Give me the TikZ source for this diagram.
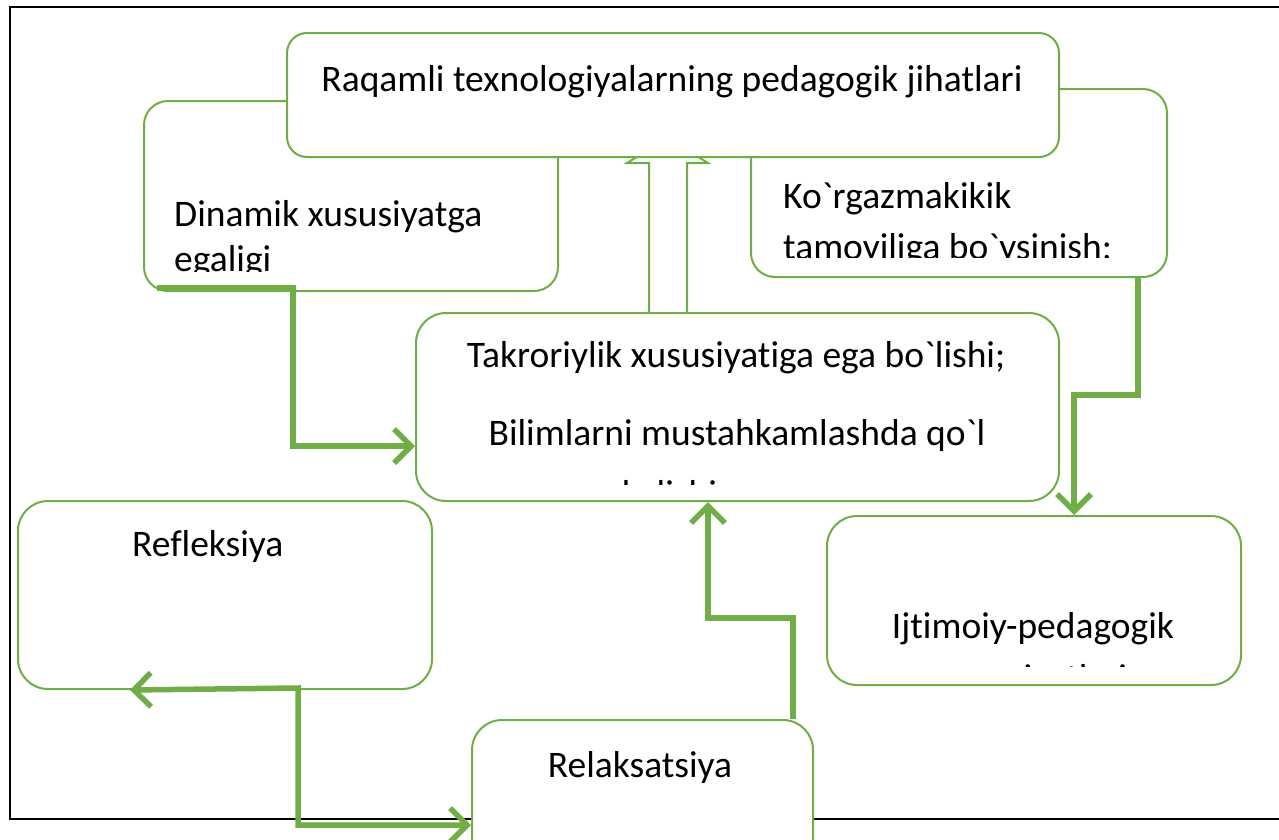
\documentclass[tikz,border=0pt]{standalone}
\usepackage{fontspec}
\setmainfont{Carlito}[Ligatures={NoCommon,TeXOff}]
\usetikzlibrary{arrows.meta}
\definecolor{ogreen}{RGB}{112,173,71}
\tikzset{
  box/.style={draw=ogreen, line width=2pt, fill=white, rounded corners=24pt, anchor=north west, inner sep=0pt},
  txt/.style={font=\fontsize{37.5}{44}\selectfont, inner sep=0pt, text=black},
  conn/.style={draw=ogreen, line width=5.5pt, -{Straight Barb[length=17pt,width=34pt,line width=5.5pt]}},
  connb/.style={draw=ogreen, line width=5.5pt, {Straight Barb[length=17pt,width=34pt,line width=5.5pt]}-{Straight Barb[length=17pt,width=34pt,line width=5.5pt]}},
}
\begin{document}
\begin{tikzpicture}[x=1pt,y=-1pt]
\useasboundingbox (0,0) rectangle (1279,839);
% frame
\draw[line width=2.2pt] (10,819) -- (10,7) -- (1300,7) -- (1300,819) -- cycle;
% back boxes
\node[box, minimum width=414pt, minimum height=190pt] (dyn) at (143,100) {};
\node[box, minimum width=416pt, minimum height=188pt] (kor) at (750,88) {};
\begin{scope}
  \clip (150,150) rectangle (550,271);
  \node[txt, anchor=base west] (dyn1) at (174,226) {Dinamik xususiyatga};
  \node[txt, anchor=base west] (dyn2) at (174,271) {egaligi};
\end{scope}
\begin{scope}
  \clip (760,150) rectangle (1160,257);
  \node[txt, anchor=base west] (kor1) at (783,208) {Ko`rgazmakikik};
  \node[txt, anchor=base west] (kor2) at (783,259) {tamoyiliga bo`ysinish;};
\end{scope}
% block arrow (hollow)
\draw[ogreen, line width=2pt, fill=white, line join=miter]
  (649,312) -- (649,163) -- (627,163) -- (667.5,138) -- (708,163) -- (687,163) -- (687,312);
% top box
\node[box, minimum width=772pt, minimum height=124pt, rounded corners=20pt] (top) at (286,32) {};
\node[txt, anchor=base] (toptxt) at (672,91) {Raqamli texnologiyalarning pedagogik jihatlari};
% middle box
\node[box, minimum width=643pt, minimum height=188pt, rounded corners=30pt] (mid) at (415,312) {};
\begin{scope}
  \clip (420,320) rectangle (1050,484);
  \node[txt, anchor=base] (mid1) at (736,367) {Takroriylik xususiyatiga ega bo`lishi;};
  \node[txt, anchor=base] (mid2) at (737,445) {Bilimlarni mustahkamlashda qo`l};
  \node[txt, anchor=base west] (mid3) at (622,506) {kelishi;};
\end{scope}
% Refleksiya
\node[box, minimum width=414pt, minimum height=188pt, rounded corners=30pt] (ref) at (17,500) {};
\node[txt, anchor=base west] (reftxt) at (132,556) {Refleksiya};
% Ijtimoiy
\node[box, minimum width=414pt, minimum height=169pt, rounded corners=30pt] (ijt) at (826,515) {};
\begin{scope}
  \clip (830,520) rectangle (1235,666);
  \node[txt, anchor=base] (ijt1) at (1033,638) {Ijtimoiy-pedagogik};
  \node[txt, anchor=base] (ijt2) at (1033,690) {xususiyatlari};
\end{scope}
% Relaksatsiya
\node[box, minimum width=341pt, minimum height=150pt, rounded corners=30pt] (rel) at (471,719) {};
\node[txt, anchor=base] (reltxt) at (640,777) {Relaksatsiya};
% connectors
\coordinate (c1) at (157,288);
\draw[conn] (c1) -- (293,288) -- (293,446) -- (mid.west |- 0,446);
\draw[conn] (kor.south -| 1138,0) -- (1138,395) -- (1074,395) -- (ijt.north -| 1074,0);
\draw[conn] (rel.north -| 793,0) -- (793,618) -- (708,618) -- (mid.south -| 708,0);
\draw[connb] (ref.south -| 130,0) -- (298,688) -- (298,825) -- (rel.west |- 0,825);
\end{tikzpicture}
\end{document}
